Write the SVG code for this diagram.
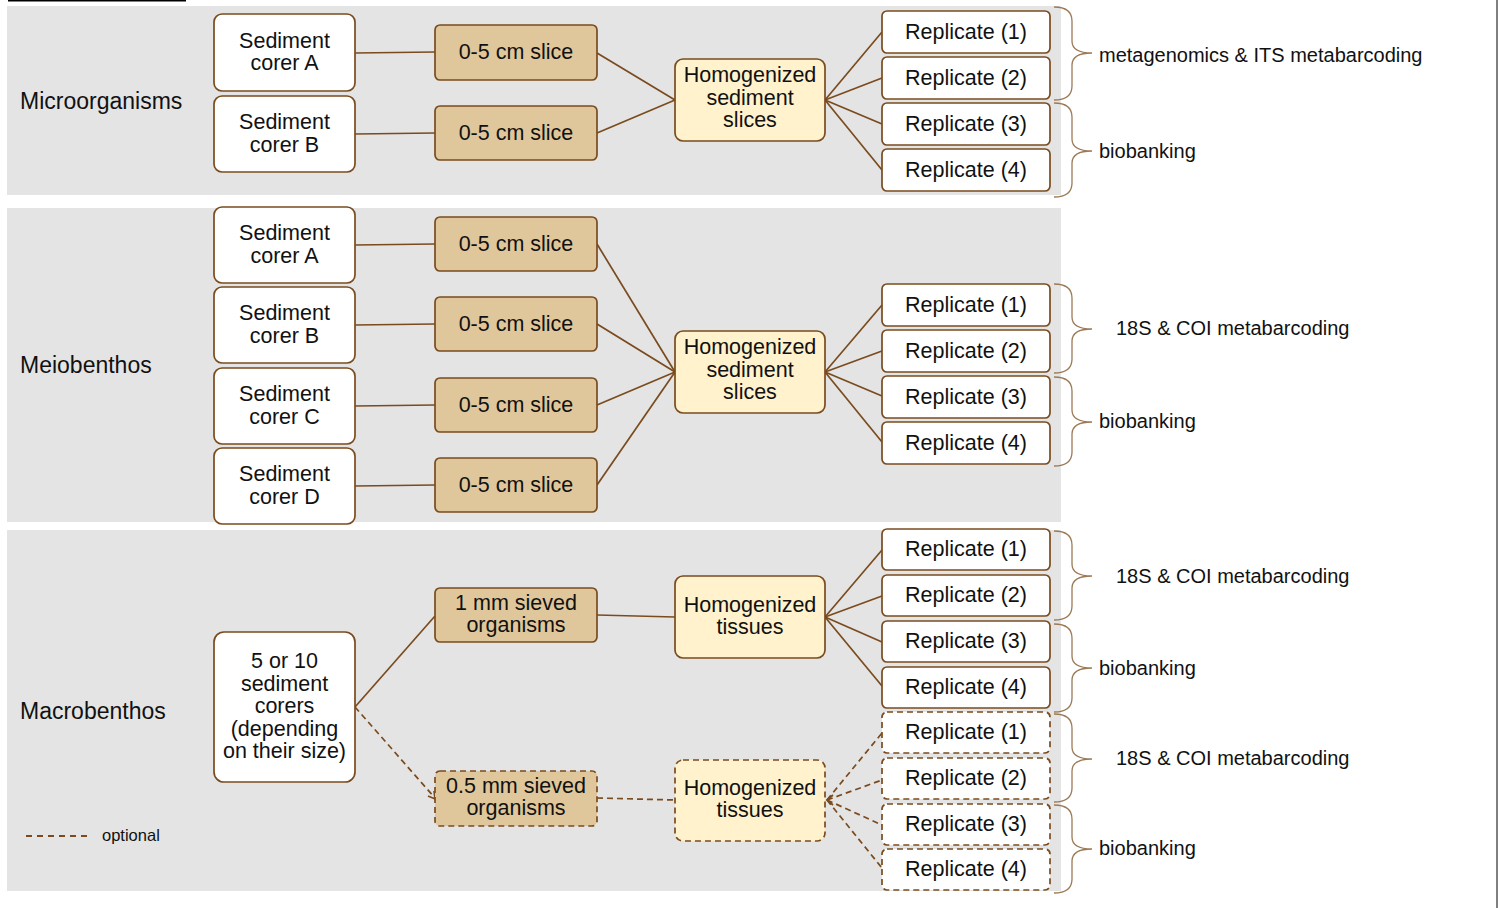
<svg xmlns="http://www.w3.org/2000/svg" width="1499" height="908" viewBox="0 0 1499 908">
<style>
.panel{fill:#e4e4e4}
.w{fill:#ffffff;stroke:#7a4b1e;stroke-width:1.7}
.s{fill:#dfc79b;stroke:#7a4b1e;stroke-width:1.7}
.h{fill:#fff2cc;stroke:#7a4b1e;stroke-width:1.7}
.d{stroke-dasharray:6 4}
.t{font-family:"Liberation Sans",Arial,sans-serif;font-size:21.5px;fill:#111;text-anchor:middle;transform:translateY(-1px)}
.lab{font-family:"Liberation Sans",Arial,sans-serif;font-size:23px;fill:#111}
.ann{font-family:"Liberation Sans",Arial,sans-serif;font-size:20px;fill:#111}
.c{fill:none;stroke:#7a4b1e;stroke-width:1.7}
.cd{fill:none;stroke:#7a4b1e;stroke-width:1.7;stroke-dasharray:6 4}
.br{fill:none;stroke:#9c7a56;stroke-width:1.3}
</style>
<rect x="0" y="0" width="1499" height="908" fill="#ffffff"/>
<line x1="8" y1="0.5" x2="186" y2="0.5" stroke="#000" stroke-width="2"/>
<line x1="1497" y1="0" x2="1497" y2="908" stroke="#808080" stroke-width="2"/>
<g id="panels">
<rect class="panel" x="7" y="6" width="1054" height="189"/>
<rect class="panel" x="7" y="208" width="1054" height="314"/>
<rect class="panel" x="7" y="530" width="1054" height="361"/>
</g>
<g id="labels">
<text class="lab" x="20" y="109">Microorganisms</text>
<text class="lab" x="20" y="373">Meiobenthos</text>
<text class="lab" x="20" y="719">Macrobenthos</text>
</g>
<g id="connectors">
<line class="c" x1="355" y1="53" x2="435" y2="52"/>
<line class="c" x1="355" y1="134" x2="435" y2="133"/>
<line class="c" x1="597" y1="53" x2="675" y2="100"/>
<line class="c" x1="597" y1="133" x2="675" y2="100"/>
<line class="c" x1="825" y1="100" x2="882" y2="32"/>
<line class="c" x1="825" y1="100" x2="882" y2="78"/>
<line class="c" x1="825" y1="100" x2="882" y2="124"/>
<line class="c" x1="825" y1="100" x2="882" y2="170"/>
<line class="c" x1="355" y1="245" x2="435" y2="244"/>
<line class="c" x1="355" y1="325" x2="435" y2="324"/>
<line class="c" x1="355" y1="406" x2="435" y2="405"/>
<line class="c" x1="355" y1="486" x2="435" y2="485"/>
<line class="c" x1="597" y1="244" x2="675" y2="372"/>
<line class="c" x1="597" y1="324" x2="675" y2="372"/>
<line class="c" x1="597" y1="405" x2="675" y2="372"/>
<line class="c" x1="597" y1="485" x2="675" y2="372"/>
<line class="c" x1="825" y1="372" x2="882" y2="305"/>
<line class="c" x1="825" y1="372" x2="882" y2="351"/>
<line class="c" x1="825" y1="372" x2="882" y2="396"/>
<line class="c" x1="825" y1="372" x2="882" y2="442"/>
<line class="c" x1="355" y1="707" x2="435" y2="616"/>
<line class="c" x1="597" y1="615" x2="675" y2="617"/>
<line class="c" x1="825" y1="617" x2="882" y2="550"/>
<line class="c" x1="825" y1="617" x2="882" y2="596"/>
<line class="c" x1="825" y1="617" x2="882" y2="642"/>
<line class="c" x1="825" y1="617" x2="882" y2="686"/>
<line class="cd" x1="355" y1="707" x2="435" y2="798"/>
<path class="c" d="M428,796 L435,799 L434,791"/>
<line class="cd" x1="597" y1="798" x2="675" y2="800"/>
<line class="cd" x1="827" y1="800" x2="882" y2="733"/>
<line class="cd" x1="827" y1="800" x2="882" y2="780"/>
<line class="cd" x1="827" y1="800" x2="882" y2="825"/>
<line class="cd" x1="827" y1="800" x2="882" y2="868"/>
<path class="c" d="M833,795 L827,800 L833,805"/>
</g>
<g id="brackets">
<path class="br" d="M1054,7 C1066,7 1072,11 1072,21 L1072,41 C1072,50 1080,53 1092,53 C1080,53 1072,56 1072,65 L1072,86 C1072,96 1066,100 1054,100"/>
<path class="br" d="M1054,103 C1066,103 1072,107 1072,117 L1072,139 C1072,148 1080,151 1092,151 C1080,151 1072,154 1072,163 L1072,183 C1072,193 1066,197 1054,197"/>
<path class="br" d="M1054,284 C1066,284 1072,288 1072,298 L1072,317 C1072,326 1080,329 1092,329 C1080,329 1072,332 1072,341 L1072,359 C1072,369 1066,373 1054,373"/>
<path class="br" d="M1054,377 C1066,377 1072,381 1072,391 L1072,410 C1072,419 1080,422 1092,422 C1080,422 1072,425 1072,434 L1072,452 C1072,462 1066,466 1054,466"/>
<path class="br" d="M1054,531 C1066,531 1072,535 1072,545 L1072,564 C1072,573 1080,576 1092,576 C1080,576 1072,579 1072,588 L1072,606 C1072,616 1066,620 1054,620"/>
<path class="br" d="M1054,624 C1066,624 1072,628 1072,638 L1072,656 C1072,665 1080,668 1092,668 C1080,668 1072,671 1072,680 L1072,698 C1072,708 1066,712 1054,712"/>
<path class="br" d="M1054,714 C1066,714 1072,718 1072,728 L1072,747 C1072,756 1080,759 1092,759 C1080,759 1072,762 1072,771 L1072,788 C1072,798 1066,802 1054,802"/>
<path class="br" d="M1054,805 C1066,805 1072,809 1072,819 L1072,837 C1072,846 1080,849 1092,849 C1080,849 1072,852 1072,861 L1072,879 C1072,889 1066,893 1054,893"/>
<text class="ann" x="1099" y="62">metagenomics &amp; ITS metabarcoding</text>
<text class="ann" x="1099" y="158">biobanking</text>
<text class="ann" x="1116" y="335">18S &amp; COI metabarcoding</text>
<text class="ann" x="1099" y="428">biobanking</text>
<text class="ann" x="1116" y="583">18S &amp; COI metabarcoding</text>
<text class="ann" x="1099" y="675">biobanking</text>
<text class="ann" x="1116" y="765">18S &amp; COI metabarcoding</text>
<text class="ann" x="1099" y="855">biobanking</text>
</g>
<g id="m-corerA"><rect class="w" x="214" y="14" width="141" height="77" rx="8"/><text class="t" x="284.5" y="48.5">Sediment<tspan x="284.5" dy="22.5">corer A</tspan></text></g>
<g id="m-corerB"><rect class="w" x="214" y="96" width="141" height="76" rx="8"/><text class="t" x="284.5" y="130">Sediment<tspan x="284.5" dy="22.5">corer B</tspan></text></g>
<g id="m-slice1"><rect class="s" x="435" y="25" width="162" height="55" rx="5"/><text class="t" x="516" y="60">0-5 cm slice</text></g>
<g id="m-slice2"><rect class="s" x="435" y="106" width="162" height="54" rx="5"/><text class="t" x="516" y="140.5">0-5 cm slice</text></g>
<g id="m-homog"><rect class="h" x="675" y="59" width="150" height="82" rx="8"/><text class="t" x="750" y="83">Homogenized<tspan x="750" dy="22.5">sediment</tspan><tspan x="750" dy="22.5">slices</tspan></text></g>
<g id="m-rep1"><rect class="w" x="882" y="11" width="168" height="42" rx="5"/><text class="t" x="966" y="39.5">Replicate (1)</text></g>
<g id="m-rep2"><rect class="w" x="882" y="57" width="168" height="42" rx="5"/><text class="t" x="966" y="85.5">Replicate (2)</text></g>
<g id="m-rep3"><rect class="w" x="882" y="103" width="168" height="42" rx="5"/><text class="t" x="966" y="131.5">Replicate (3)</text></g>
<g id="m-rep4"><rect class="w" x="882" y="149" width="168" height="42" rx="5"/><text class="t" x="966" y="177.5">Replicate (4)</text></g>
<g id="e-corerA"><rect class="w" x="214" y="207" width="141" height="76" rx="8"/><text class="t" x="284.5" y="241">Sediment<tspan x="284.5" dy="22.5">corer A</tspan></text></g>
<g id="e-corerB"><rect class="w" x="214" y="287" width="141" height="76" rx="8"/><text class="t" x="284.5" y="321">Sediment<tspan x="284.5" dy="22.5">corer B</tspan></text></g>
<g id="e-corerC"><rect class="w" x="214" y="368" width="141" height="76" rx="8"/><text class="t" x="284.5" y="402">Sediment<tspan x="284.5" dy="22.5">corer C</tspan></text></g>
<g id="e-corerD"><rect class="w" x="214" y="448" width="141" height="76" rx="8"/><text class="t" x="284.5" y="482">Sediment<tspan x="284.5" dy="22.5">corer D</tspan></text></g>
<g id="e-slice1"><rect class="s" x="435" y="217" width="162" height="54" rx="5"/><text class="t" x="516" y="251.5">0-5 cm slice</text></g>
<g id="e-slice2"><rect class="s" x="435" y="297" width="162" height="54" rx="5"/><text class="t" x="516" y="331.5">0-5 cm slice</text></g>
<g id="e-slice3"><rect class="s" x="435" y="378" width="162" height="54" rx="5"/><text class="t" x="516" y="412.5">0-5 cm slice</text></g>
<g id="e-slice4"><rect class="s" x="435" y="458" width="162" height="54" rx="5"/><text class="t" x="516" y="492.5">0-5 cm slice</text></g>
<g id="e-homog"><rect class="h" x="675" y="331" width="150" height="82" rx="8"/><text class="t" x="750" y="355">Homogenized<tspan x="750" dy="22.5">sediment</tspan><tspan x="750" dy="22.5">slices</tspan></text></g>
<g id="e-rep1"><rect class="w" x="882" y="284" width="168" height="42" rx="5"/><text class="t" x="966" y="312.5">Replicate (1)</text></g>
<g id="e-rep2"><rect class="w" x="882" y="330" width="168" height="42" rx="5"/><text class="t" x="966" y="358.5">Replicate (2)</text></g>
<g id="e-rep3"><rect class="w" x="882" y="376" width="168" height="42" rx="5"/><text class="t" x="966" y="404.5">Replicate (3)</text></g>
<g id="e-rep4"><rect class="w" x="882" y="422" width="168" height="42" rx="5"/><text class="t" x="966" y="450.5">Replicate (4)</text></g>
<g id="a-corers"><rect class="w" x="214" y="632" width="141" height="150" rx="10"/><text class="t" x="284.5" y="669">5 or 10<tspan x="284.5" dy="22.5">sediment</tspan><tspan x="284.5" dy="22.5">corers</tspan><tspan x="284.5" dy="22.5">(depending</tspan><tspan x="284.5" dy="22.5">on their size)</tspan></text></g>
<g id="a-sieve1"><rect class="s" x="435" y="588" width="162" height="54" rx="5"/><text class="t" x="516" y="611">1 mm sieved<tspan x="516" dy="22">organisms</tspan></text></g>
<g id="a-homog1"><rect class="h" x="675" y="576" width="150" height="82" rx="8"/><text class="t" x="750" y="612.5">Homogenized<tspan x="750" dy="22.5">tissues</tspan></text></g>
<g id="a-rep1"><rect class="w" x="882" y="529" width="168" height="41" rx="5"/><text class="t" x="966" y="557">Replicate (1)</text></g>
<g id="a-rep2"><rect class="w" x="882" y="575" width="168" height="41" rx="5"/><text class="t" x="966" y="603">Replicate (2)</text></g>
<g id="a-rep3"><rect class="w" x="882" y="621" width="168" height="41" rx="5"/><text class="t" x="966" y="649">Replicate (3)</text></g>
<g id="a-rep4"><rect class="w" x="882" y="667" width="168" height="41" rx="5"/><text class="t" x="966" y="695">Replicate (4)</text></g>
<g id="a-sieve05"><rect class="s d" x="435" y="771" width="162" height="55" rx="5"/><text class="t" x="516" y="794">0.5 mm sieved<tspan x="516" dy="22">organisms</tspan></text></g>
<g id="a-homog2"><rect class="h d" x="675" y="760" width="150" height="81" rx="8"/><text class="t" x="750" y="795.5">Homogenized<tspan x="750" dy="22.5">tissues</tspan></text></g>
<g id="a-drep1"><rect class="w d" x="882" y="712" width="168" height="41" rx="5"/><text class="t" x="966" y="740">Replicate (1)</text></g>
<g id="a-drep2"><rect class="w d" x="882" y="758" width="168" height="41" rx="5"/><text class="t" x="966" y="786">Replicate (2)</text></g>
<g id="a-drep3"><rect class="w d" x="882" y="804" width="168" height="41" rx="5"/><text class="t" x="966" y="832">Replicate (3)</text></g>
<g id="a-drep4"><rect class="w d" x="882" y="849" width="168" height="41" rx="5"/><text class="t" x="966" y="877">Replicate (4)</text></g>
<g id="legend">
<line x1="26" y1="836" x2="91" y2="836" stroke="#7a4b1e" stroke-width="1.8" stroke-dasharray="6 5"/>
<text x="102" y="841" style="font-family:'Liberation Sans',Arial,sans-serif;font-size:16.5px;fill:#111">optional</text>
</g>
</svg>
